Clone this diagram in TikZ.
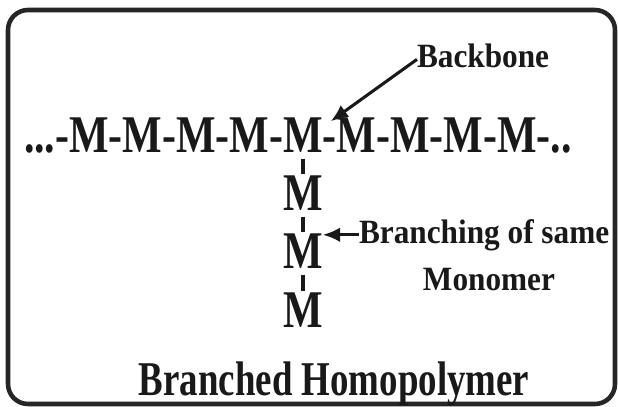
\documentclass[tikz,border=0pt]{standalone}
\usepackage{fontspec}
\setmainfont{Liberation Serif}
% condensed bold serif faces at three widths
\newfontfamily\chainfont{Liberation Serif}[FakeStretch=0.79]
\newfontfamily\labelfont{Liberation Serif}[FakeStretch=0.92]
\newfontfamily\titlefont{Liberation Serif}[FakeStretch=0.76]
\usetikzlibrary{arrows.meta}

\begin{document}
\begin{tikzpicture}[x=0.75pt,y=-0.75pt,
  txt/.style={inner sep=0pt,outer sep=0pt,text=black!90},
  mono/.style={txt,font=\chainfont\bfseries\fontsize{39.75}{44}\selectfont},
  lbl/.style={txt,font=\labelfont\bfseries\fontsize{25.5}{30}\selectfont},
  ttl/.style={txt,font=\titlefont\bfseries\fontsize{36.4}{40}\selectfont},
  bond/.style={line width=2.6pt,black!90,shorten <=5pt,shorten >=1pt},
  pointer/.style={line width=2.3pt,black!90,-{Latex[length=13pt,width=11pt]}},
  frame/.style={line width=3.4pt,black!85,rounded corners=15pt}]

  % page area and outer frame
  \useasboundingbox (0,0) rectangle (618,407);
  \fill[white] (0,0) rectangle (618,407);
  \draw[frame] (8,10) rectangle (615,404);

  % backbone chain, split around the branching monomer
  \node[mono,anchor=base] (m5) at (303,152) {M};
  \node[mono,anchor=base east] (left) at (m5.base west) {...-M-M-M-M-};
  \node[mono,anchor=base west] (right) at (m5.base east) {-M-M-M-M-..};

  % branch of the same monomer
  \node[mono,anchor=base] (b1) at (303,210) {M};
  \node[mono,anchor=base] (b2) at (303,268) {M};
  \node[mono,anchor=base] (b3) at (303,327) {M};
  \draw[bond] (m5.south) -- (b1.north);
  \draw[bond] (b1.south) -- (b2.north);
  \draw[bond] (b2.south) -- (b3.north);

  % labels with pointers
  \node[lbl,anchor=base west] (bb) at (417,67) {Backbone};
  \draw[pointer] ([yshift=-3pt]bb.west) -- ([xshift=6pt,yshift=-3pt]m5.north east);

  \node[lbl,anchor=base west] (br) at (359,243) {Branching of same};
  \node[lbl,anchor=base] (mn) at (489,290) {Monomer};
  \draw[pointer] (br.west) -- (br.west -| b2.east);

  % caption
  \node[ttl,anchor=base] (cap) at (334,395) {Branched Homopolymer};
\end{tikzpicture}
\end{document}
